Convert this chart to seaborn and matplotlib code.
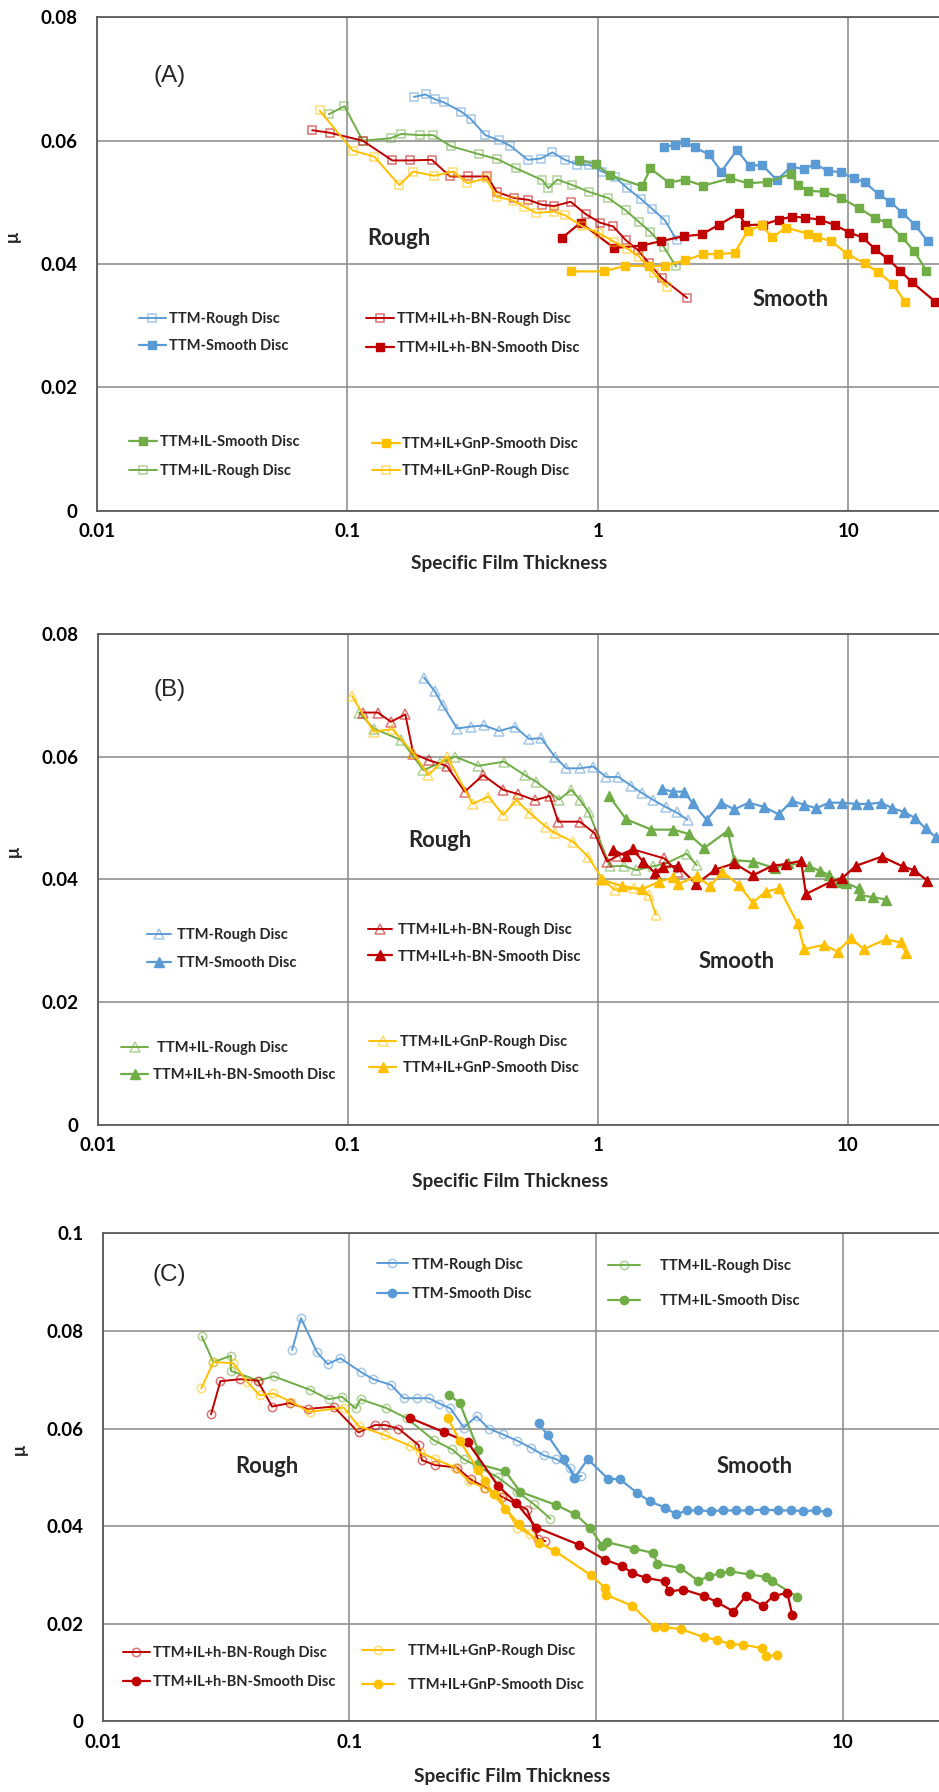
import numpy as np
import pandas as pd
import matplotlib
matplotlib.use("Agg")
import matplotlib.pyplot as plt
import seaborn as sns
from matplotlib.colors import to_rgba
from matplotlib.legend import Legend
from matplotlib.ticker import NullLocator

# ---------------- Panel A data ----------------
a_ttm_rough_x = [0.184, 0.205, 0.224, 0.243, 0.285, 0.311, 0.355, 0.401, 0.446, 0.525, 0.591, 0.658, 0.739, 0.828, 0.921, 1.04, 1.17, 1.31, 1.48, 1.64, 1.85, 2.06]
a_ttm_rough_y = [0.0671, 0.0675, 0.0667, 0.0662, 0.0647, 0.0635, 0.0609, 0.0601, 0.0592, 0.0569, 0.0571, 0.0581, 0.0569, 0.0561, 0.0561, 0.0550, 0.0541, 0.0523, 0.0506, 0.0490, 0.0471, 0.0439]
a_ttm_smooth_x = [1.83, 2.04, 2.23, 2.43, 2.77, 3.11, 3.59, 4.03, 4.52, 5.18, 5.91, 6.62, 7.37, 8.27, 9.35, 10.5, 11.6, 13.2, 14.7, 16.4, 18.4, 20.7]
a_ttm_smooth_y = [0.0590, 0.0593, 0.0598, 0.0589, 0.0578, 0.0550, 0.0585, 0.0559, 0.0561, 0.0536, 0.0558, 0.0554, 0.0562, 0.0551, 0.0549, 0.0539, 0.0533, 0.0513, 0.0501, 0.0483, 0.0464, 0.0437]
a_il_smooth_x = [0.84, 0.98, 1.12, 1.50, 1.62, 1.92, 2.22, 2.62, 3.38, 3.97, 4.73, 5.91, 6.28, 6.89, 8.02, 9.35, 11.0, 12.8, 14.3, 16.3, 18.3, 20.5]
a_il_smooth_y = [0.0569, 0.0562, 0.0544, 0.0526, 0.0555, 0.0532, 0.0537, 0.0527, 0.0539, 0.0531, 0.0533, 0.0546, 0.0528, 0.0519, 0.0517, 0.0507, 0.0491, 0.0474, 0.0467, 0.0444, 0.0421, 0.0389]
a_il_rough_x = [0.0843, 0.0973, 0.115, 0.149, 0.164, 0.194, 0.220, 0.259, 0.336, 0.397, 0.473, 0.600, 0.634, 0.689, 0.791, 0.921, 1.10, 1.29, 1.46, 1.62, 1.83, 2.05]
a_il_rough_y = [0.0643, 0.0656, 0.0600, 0.0604, 0.0611, 0.0609, 0.0609, 0.0591, 0.0578, 0.0570, 0.0555, 0.0536, 0.0523, 0.0537, 0.0528, 0.0517, 0.0507, 0.0487, 0.0468, 0.0452, 0.0428, 0.0396]
a_bn_rough_x = [0.0723, 0.0848, 0.115, 0.151, 0.178, 0.217, 0.257, 0.304, 0.362, 0.394, 0.463, 0.528, 0.600, 0.668, 0.778, 0.893, 1.02, 1.15, 1.29, 1.44, 1.60, 1.80, 2.27]
a_bn_rough_y = [0.0617, 0.0613, 0.0600, 0.0568, 0.0568, 0.0569, 0.0542, 0.0542, 0.0542, 0.0517, 0.0507, 0.0504, 0.0496, 0.0494, 0.0501, 0.0481, 0.0467, 0.0461, 0.0439, 0.0423, 0.0401, 0.0377, 0.0345]
a_bn_smooth_x = [0.717, 0.853, 1.16, 1.50, 1.78, 2.20, 2.60, 3.05, 3.65, 3.88, 4.58, 5.29, 5.98, 6.72, 7.71, 8.85, 10.1, 11.4, 12.8, 14.4, 16.1, 18.0, 22.2]
a_bn_smooth_y = [0.0442, 0.0467, 0.0426, 0.0430, 0.0437, 0.0445, 0.0448, 0.0464, 0.0482, 0.0463, 0.0464, 0.0472, 0.0477, 0.0475, 0.0472, 0.0463, 0.0451, 0.0443, 0.0424, 0.0408, 0.0389, 0.0370, 0.0339]
a_gnp_smooth_x = [0.778, 1.06, 1.28, 1.60, 1.85, 2.23, 2.63, 3.02, 3.51, 3.97, 4.52, 4.95, 5.65, 6.89, 7.48, 8.53, 9.85, 11.6, 13.1, 15.0, 16.9]
a_gnp_smooth_y = [0.0388, 0.0388, 0.0397, 0.0397, 0.0397, 0.0406, 0.0416, 0.0416, 0.0418, 0.0454, 0.0463, 0.0443, 0.0459, 0.0449, 0.0444, 0.0437, 0.0417, 0.0401, 0.0387, 0.0368, 0.0338]
a_gnp_rough_x = [0.0774, 0.105, 0.128, 0.161, 0.183, 0.222, 0.265, 0.301, 0.357, 0.394, 0.456, 0.507, 0.565, 0.668, 0.739, 0.866, 1.01, 1.16, 1.31, 1.46, 1.67, 1.89]
a_gnp_rough_y = [0.0649, 0.0584, 0.0574, 0.0528, 0.0550, 0.0543, 0.0550, 0.0531, 0.0539, 0.0509, 0.0503, 0.0493, 0.0483, 0.0485, 0.0479, 0.0461, 0.0450, 0.0436, 0.0425, 0.0412, 0.0385, 0.0363]

# ---------------- Panel B data ----------------
b_ttm_rough_x = [0.202, 0.223, 0.240, 0.274, 0.310, 0.351, 0.404, 0.466, 0.532, 0.596, 0.673, 0.750, 0.847, 0.958, 1.08, 1.21, 1.36, 1.50, 1.66, 1.87, 2.07, 2.29]
b_ttm_rough_y = [0.0729, 0.0707, 0.0684, 0.0646, 0.0649, 0.0651, 0.0642, 0.0649, 0.0629, 0.0630, 0.0600, 0.0581, 0.0581, 0.0584, 0.0567, 0.0567, 0.0553, 0.0541, 0.0530, 0.0518, 0.0509, 0.0497]
b_ttm_smooth_x = [1.81, 2.01, 2.22, 2.40, 2.73, 3.12, 3.52, 4.02, 4.64, 5.30, 5.99, 6.66, 7.47, 8.44, 9.53, 10.8, 12.1, 13.6, 15.1, 16.8, 18.6, 20.5, 22.5]
b_ttm_smooth_y = [0.0547, 0.0543, 0.0543, 0.0524, 0.0497, 0.0525, 0.0514, 0.0525, 0.0518, 0.0506, 0.0528, 0.0522, 0.0516, 0.0525, 0.0525, 0.0523, 0.0523, 0.0525, 0.0516, 0.0510, 0.0500, 0.0483, 0.0469]
b_il_rough_x = [0.111, 0.127, 0.164, 0.201, 0.234, 0.269, 0.333, 0.422, 0.511, 0.569, 0.701, 0.785, 0.848, 0.923, 1.12, 1.27, 1.43, 1.66, 1.88, 2.27, 2.49]
b_il_rough_y = [0.0672, 0.0646, 0.0627, 0.0578, 0.0590, 0.0600, 0.0585, 0.0592, 0.0570, 0.0559, 0.0530, 0.0546, 0.0530, 0.0509, 0.0421, 0.0422, 0.0415, 0.0421, 0.0426, 0.0442, 0.0423]
b_il_smooth_x = [1.11, 1.30, 1.64, 2.01, 2.31, 2.67, 3.31, 3.52, 4.20, 5.14, 5.75, 7.02, 7.74, 8.44, 9.19, 9.84, 11.1, 11.2, 12.6, 14.2]
b_il_smooth_y = [0.0536, 0.0498, 0.0481, 0.0481, 0.0474, 0.0451, 0.0479, 0.0431, 0.0429, 0.0418, 0.0426, 0.0421, 0.0414, 0.0407, 0.0396, 0.0394, 0.0385, 0.0374, 0.0371, 0.0367]
b_bn_rough_x = [0.115, 0.132, 0.149, 0.170, 0.183, 0.212, 0.249, 0.294, 0.348, 0.419, 0.481, 0.561, 0.643, 0.695, 0.848, 0.973, 1.09, 1.20, 1.38, 1.85, 2.09]
b_bn_rough_y = [0.0672, 0.0672, 0.0657, 0.0669, 0.0605, 0.0594, 0.0585, 0.0543, 0.0570, 0.0546, 0.0539, 0.0529, 0.0536, 0.0494, 0.0494, 0.0475, 0.0429, 0.0438, 0.0449, 0.0434, 0.0412]
b_bn_smooth_x = [1.15, 1.30, 1.38, 1.52, 1.69, 1.83, 2.09, 2.48, 2.96, 3.52, 4.20, 5.01, 5.67, 6.51, 6.81, 8.57, 9.53, 10.8, 13.7, 16.6, 18.4, 20.8]
b_bn_smooth_y = [0.0448, 0.0438, 0.0449, 0.0429, 0.0411, 0.0420, 0.0422, 0.0392, 0.0416, 0.0426, 0.0407, 0.0422, 0.0425, 0.0430, 0.0376, 0.0396, 0.0402, 0.0422, 0.0437, 0.0421, 0.0415, 0.0398]
b_gnp_rough_x = [0.104, 0.127, 0.151, 0.183, 0.210, 0.250, 0.316, 0.365, 0.419, 0.473, 0.535, 0.624, 0.673, 0.798, 0.915, 1.05, 1.17, 1.40, 1.61, 1.71]
b_gnp_rough_y = [0.0699, 0.0641, 0.0645, 0.0606, 0.0570, 0.0600, 0.0523, 0.0535, 0.0505, 0.0529, 0.0508, 0.0485, 0.0476, 0.0461, 0.0437, 0.0399, 0.0383, 0.0385, 0.0374, 0.0342]
b_gnp_smooth_x = [1.03, 1.25, 1.51, 1.76, 2.00, 2.09, 2.49, 2.82, 3.15, 3.67, 4.17, 4.71, 5.33, 6.31, 6.70, 8.05, 9.11, 10.3, 11.6, 14.2, 16.3, 17.1]
b_gnp_smooth_y = [0.0400, 0.0389, 0.0384, 0.0396, 0.0403, 0.0392, 0.0405, 0.0389, 0.0412, 0.0391, 0.0362, 0.0380, 0.0385, 0.0328, 0.0286, 0.0293, 0.0282, 0.0304, 0.0286, 0.0302, 0.0297, 0.0280]

# ---------------- Panel C data ----------------
c_ttm_rough_x = [0.0586, 0.0637, 0.0740, 0.0817, 0.0919, 0.112, 0.125, 0.148, 0.166, 0.188, 0.210, 0.232, 0.257, 0.291, 0.328, 0.367, 0.419, 0.479, 0.547, 0.614, 0.691, 0.783, 0.826, 0.873]
c_ttm_rough_y = [0.0761, 0.0826, 0.0756, 0.0732, 0.0744, 0.0715, 0.0701, 0.0689, 0.0662, 0.0662, 0.0662, 0.0651, 0.0641, 0.0602, 0.0625, 0.0600, 0.0588, 0.0575, 0.0560, 0.0545, 0.0537, 0.0520, 0.0499, 0.0503]
c_ttm_smooth_x = [0.586, 0.637, 0.740, 0.818, 0.927, 1.12, 1.25, 1.47, 1.65, 1.90, 2.12, 2.33, 2.59, 2.92, 3.27, 3.68, 4.17, 4.80, 5.47, 6.20, 6.93, 7.77, 8.66]
c_ttm_smooth_y = [0.0611, 0.0586, 0.0538, 0.0499, 0.0537, 0.0497, 0.0496, 0.0468, 0.0451, 0.0438, 0.0424, 0.0432, 0.0432, 0.0431, 0.0432, 0.0432, 0.0432, 0.0434, 0.0432, 0.0432, 0.0431, 0.0432, 0.0429]
c_il_rough_x = [0.0252, 0.0281, 0.0331, 0.0331, 0.0429, 0.0493, 0.0695, 0.0824, 0.0934, 0.106, 0.111, 0.141, 0.171, 0.220, 0.261, 0.291, 0.330, 0.40, 0.48, 0.56, 0.654]
c_il_rough_y = [0.0789, 0.0736, 0.0749, 0.0718, 0.0698, 0.0707, 0.0679, 0.0660, 0.0665, 0.0641, 0.0660, 0.0642, 0.0621, 0.0576, 0.0557, 0.0537, 0.0523, 0.0500, 0.0470, 0.0445, 0.0415]
c_il_smooth_x = [0.253, 0.280, 0.333, 0.333, 0.429, 0.494, 0.691, 0.826, 0.944, 1.06, 1.11, 1.42, 1.71, 1.77, 2.20, 2.60, 2.87, 3.17, 3.51, 4.20, 4.87, 5.19, 6.55]
c_il_smooth_y = [0.0669, 0.0653, 0.0556, 0.0527, 0.0512, 0.0470, 0.0443, 0.0424, 0.0397, 0.0360, 0.0367, 0.0354, 0.0345, 0.0323, 0.0314, 0.0288, 0.0297, 0.0303, 0.0307, 0.0301, 0.0296, 0.0287, 0.0255]
c_bn_rough_x = [0.0275, 0.0300, 0.0361, 0.0425, 0.0486, 0.0573, 0.0677, 0.0863, 0.109, 0.127, 0.140, 0.158, 0.191, 0.197, 0.223, 0.273, 0.310, 0.356, 0.416, 0.526, 0.581, 0.624]
c_bn_rough_y = [0.0629, 0.0697, 0.0701, 0.0698, 0.0645, 0.0652, 0.0640, 0.0645, 0.0592, 0.0607, 0.0607, 0.0600, 0.0566, 0.0535, 0.0525, 0.0520, 0.0496, 0.0479, 0.0460, 0.0434, 0.0374, 0.0369]
c_bn_smooth_x = [0.177, 0.241, 0.302, 0.400, 0.474, 0.574, 0.851, 1.09, 1.28, 1.40, 1.59, 1.90, 1.97, 2.26, 2.74, 3.10, 3.61, 4.04, 4.75, 5.26, 5.97, 6.25]
c_bn_smooth_y = [0.0621, 0.0593, 0.0572, 0.0483, 0.0448, 0.0397, 0.0362, 0.0331, 0.0318, 0.0304, 0.0294, 0.0287, 0.0266, 0.0270, 0.0257, 0.0244, 0.0225, 0.0256, 0.0237, 0.0257, 0.0263, 0.0218]
c_gnp_rough_x = [0.0251, 0.0281, 0.0338, 0.0385, 0.0433, 0.0490, 0.0580, 0.0690, 0.0948, 0.109, 0.140, 0.177, 0.194, 0.223, 0.269, 0.305, 0.351, 0.404, 0.479, 0.539]
c_gnp_rough_y = [0.0682, 0.0736, 0.0734, 0.0696, 0.0668, 0.0672, 0.0655, 0.0634, 0.0643, 0.0605, 0.0586, 0.0564, 0.0551, 0.0537, 0.0520, 0.0492, 0.0479, 0.0461, 0.0397, 0.0383]
c_gnp_smooth_x = [0.251, 0.280, 0.333, 0.356, 0.385, 0.429, 0.486, 0.586, 0.685, 0.957, 1.09, 1.10, 1.40, 1.73, 1.89, 2.21, 2.75, 3.10, 3.50, 3.95, 4.70, 4.90, 5.40]
c_gnp_smooth_y = [0.0621, 0.0575, 0.0515, 0.0492, 0.0465, 0.0436, 0.0405, 0.0366, 0.0348, 0.0299, 0.0273, 0.0259, 0.0237, 0.0193, 0.0193, 0.0189, 0.0172, 0.0167, 0.0158, 0.0157, 0.0150, 0.0134, 0.0135]

x_tick_values = [0.01, 0.1, 1, 10]
x_tick_labels = ["0.01", "0.1", "1", "10"]
x_label = "Specific Film Thickness"
y_label = "\u03bc"

sns.set_theme(style="white")
plt.rcParams['font.family'] = ['Lato', 'DejaVu Sans']

BLUE = "#5B9BD5"
RED = "#C00000"
GREEN = "#70AD47"
GOLD = "#FFC000"
GRID = "#888888"
SPINE = "#5A5A5A"
DPI = 100
LEG_FS = 10.5

fig = plt.figure(figsize=(9.39, 17.92), dpi=DPI)


def make_axes(rect, ymax, xmax, xlabel_y):
    ax = fig.add_axes(rect)
    ax.set_xscale('log')
    ax.set_xlim(0.01, xmax)
    ax.set_ylim(0, ymax)
    ax.set_xticks(x_tick_values)
    ax.set_xticklabels(x_tick_labels)
    ax.xaxis.set_minor_locator(NullLocator())
    yt = np.round(np.arange(0, ymax + 1e-9, 0.02), 2)
    ax.set_yticks(yt)
    ax.set_yticklabels([f"{v:g}" for v in yt])
    ax.grid(True, which='major', color=GRID, lw=1.1)
    ax.set_axisbelow(True)
    for s in ['left', 'bottom', 'top']:
        ax.spines[s].set_color(SPINE)
        ax.spines[s].set_linewidth(1.3)
    ax.spines['right'].set_visible(False)
    ax.tick_params(axis='both', which='major', length=3, width=1, color=SPINE,
                   labelsize=13.5, labelcolor='black')
    ax.tick_params(axis='y', pad=11)
    ax.tick_params(axis='x', pad=6)
    for lab in ax.get_xticklabels() + ax.get_yticklabels():
        lab.set_fontweight('bold')
    ax.set_xlabel(x_label, fontsize=13.8, fontweight='bold', va='center')
    ax.xaxis.set_label_coords(0.49, xlabel_y)
    ax.set_ylabel(y_label, fontsize=13, fontweight='bold')
    ax.yaxis.set_label_coords(-0.09, 0.556)
    return ax


def series(ax, x, y, color, marker, filled, label, ms):
    df = pd.DataFrame({"x": x, "y": y})
    if filled:
        kw = dict(markerfacecolor=color, markeredgecolor=color, markeredgewidth=1.0)
        lw = 1.6
    else:
        kw = dict(markerfacecolor='none', markeredgecolor=to_rgba(color, 0.55), markeredgewidth=1.1)
        lw = 1.4
    sns.lineplot(data=df, x="x", y="y", ax=ax, color=color, marker=marker, markersize=ms,
                 linewidth=lw, sort=False, estimator=None, legend=False, label=label, **kw)
    return ax.lines[-1]


def entry(ax, handle, text, x, y, hl_px, gap_px, fs=LEG_FS):
    fpx = fs * DPI / 72.0
    leg = Legend(ax, [handle], [text], loc='center left', bbox_to_anchor=(x, y),
                 bbox_transform=ax.transData, frameon=False, borderpad=0, borderaxespad=0,
                 handlelength=hl_px / fpx, handletextpad=gap_px / fpx, numpoints=1,
                 prop=dict(weight='bold', size=fs))
    ax.add_artist(leg)


def panel_text(ax, label, rough_xy, smooth_xy, label_xy):
    ax.text(*label_xy, label, ha='center', va='center', fontsize=17.5,
            family=['Liberation Sans', 'DejaVu Sans'])
    ax.text(*rough_xy, "Rough", ha='center', va='center', fontsize=15.8, fontweight='bold')
    ax.text(*smooth_xy, "Smooth", ha='center', va='center', fontsize=15.8, fontweight='bold')

# ---------------- Panel A ----------------
axA = make_axes([97 / 939, 1 - 510.6 / 1792, 842 / 939, 493.2 / 1792], 0.08, 23.0, -0.1065)
hA = {}
hA['ttm_r'] = series(axA, a_ttm_rough_x, a_ttm_rough_y, BLUE, 's', False, "TTM-Rough Disc", 5.5)
hA['ttm_s'] = series(axA, a_ttm_smooth_x, a_ttm_smooth_y, BLUE, 's', True, "TTM-Smooth Disc", 5.5)
hA['il_s'] = series(axA, a_il_smooth_x, a_il_smooth_y, GREEN, 's', True, "TTM+IL-Smooth Disc", 5.5)
hA['il_r'] = series(axA, a_il_rough_x, a_il_rough_y, GREEN, 's', False, "TTM+IL-Rough Disc", 5.5)
hA['bn_r'] = series(axA, a_bn_rough_x, a_bn_rough_y, RED, 's', False, "TTM+IL+h-BN-Rough Disc", 5.5)
hA['bn_s'] = series(axA, a_bn_smooth_x, a_bn_smooth_y, RED, 's', True, "TTM+IL+h-BN-Smooth Disc", 5.5)
hA['gnp_s'] = series(axA, a_gnp_smooth_x, a_gnp_smooth_y, GOLD, 's', True, "TTM+IL+GnP-Smooth Disc", 5.5)
hA['gnp_r'] = series(axA, a_gnp_rough_x, a_gnp_rough_y, GOLD, 's', False, "TTM+IL+GnP-Rough Disc", 5.5)
entry(axA, hA['ttm_r'], "TTM-Rough Disc", 0.01466, 0.0311, 27, 3)
entry(axA, hA['ttm_s'], "TTM-Smooth Disc", 0.01466, 0.0267, 27, 3)
entry(axA, hA['bn_r'], "TTM+IL+h-BN-Rough Disc", 0.1184, 0.0311, 28, 3)
entry(axA, hA['bn_s'], "TTM+IL+h-BN-Smooth Disc", 0.1184, 0.0264, 28, 3)
entry(axA, hA['il_s'], "TTM+IL-Smooth Disc", 0.01343, 0.0111, 28, 3)
entry(axA, hA['il_r'], "TTM+IL-Rough Disc", 0.01343, 0.0064, 28, 3)
entry(axA, hA['gnp_s'], "TTM+IL+GnP-Smooth Disc", 0.1256, 0.0108, 28, 2)
entry(axA, hA['gnp_r'], "TTM+IL+GnP-Rough Disc", 0.1256, 0.0064, 28, 2)
panel_text(axA, "(A)", (0.161, 0.0441), (5.87, 0.0343), (0.0194, 0.0705))

# ---------------- Panel B ----------------
axB = make_axes([97.7 / 939, 1 - 1124.5 / 1792, 841.3 / 939, 490.4 / 1792], 0.08, 23.2, -0.116)
hB = {}
hB['ttm_r'] = series(axB, b_ttm_rough_x, b_ttm_rough_y, BLUE, '^', False, "TTM-Rough Disc", 6.5)
hB['ttm_s'] = series(axB, b_ttm_smooth_x, b_ttm_smooth_y, BLUE, '^', True, "TTM-Smooth Disc", 6.5)
hB['il_r'] = series(axB, b_il_rough_x, b_il_rough_y, GREEN, '^', False, "TTM+IL-Rough Disc", 6.5)
hB['il_s'] = series(axB, b_il_smooth_x, b_il_smooth_y, GREEN, '^', True, "TTM+IL+h-BN-Smooth Disc", 6.5)
hB['bn_r'] = series(axB, b_bn_rough_x, b_bn_rough_y, RED, '^', False, "TTM+IL+h-BN-Rough Disc", 6.5)
hB['bn_s'] = series(axB, b_bn_smooth_x, b_bn_smooth_y, RED, '^', True, "TTM+IL+h-BN-Smooth Disc", 6.5)
hB['gnp_r'] = series(axB, b_gnp_rough_x, b_gnp_rough_y, GOLD, '^', False, "TTM+IL+GnP-Rough Disc", 6.5)
hB['gnp_s'] = series(axB, b_gnp_smooth_x, b_gnp_smooth_y, GOLD, '^', True, "TTM+IL+GnP-Smooth Disc", 6.5)
entry(axB, hB['ttm_r'], "TTM-Rough Disc", 0.0157, 0.0309, 24, 6)
entry(axB, hB['ttm_s'], "TTM-Smooth Disc", 0.0157, 0.0263, 24, 6)
entry(axB, hB['bn_r'], "TTM+IL+h-BN-Rough Disc", 0.121, 0.0317, 24, 6)
entry(axB, hB['bn_s'], "TTM+IL+h-BN-Smooth Disc", 0.121, 0.0274, 24, 6)
entry(axB, hB['il_r'], "TTM+IL-Rough Disc", 0.0124, 0.0125, 27, 9)
entry(axB, hB['il_s'], "TTM+IL+h-BN-Smooth Disc", 0.0124, 0.0080, 27, 5)
entry(axB, hB['gnp_r'], "TTM+IL+GnP-Rough Disc", 0.122, 0.0135, 27, 4)
entry(axB, hB['gnp_s'], "TTM+IL+GnP-Smooth Disc", 0.122, 0.0092, 27, 7)
panel_text(axB, "(B)", (0.233, 0.0464), (3.61, 0.0266), (0.0194, 0.0709))

# ---------------- Panel C ----------------
axC = make_axes([102.7 / 939, 1 - 1721.3 / 1792, 836.3 / 939, 488 / 1792], 0.1, 24.6, -0.113)
hC = {}
hC['ttm_r'] = series(axC, c_ttm_rough_x, c_ttm_rough_y, BLUE, 'o', False, "TTM-Rough Disc", 6)
hC['ttm_s'] = series(axC, c_ttm_smooth_x, c_ttm_smooth_y, BLUE, 'o', True, "TTM-Smooth Disc", 6)
hC['il_r'] = series(axC, c_il_rough_x, c_il_rough_y, GREEN, 'o', False, "TTM+IL-Rough Disc", 6)
hC['il_s'] = series(axC, c_il_smooth_x, c_il_smooth_y, GREEN, 'o', True, "TTM+IL-Smooth Disc", 6)
hC['bn_r'] = series(axC, c_bn_rough_x, c_bn_rough_y, RED, 'o', False, "TTM+IL+h-BN-Rough Disc", 6)
hC['bn_s'] = series(axC, c_bn_smooth_x, c_bn_smooth_y, RED, 'o', True, "TTM+IL+h-BN-Smooth Disc", 6)
hC['gnp_r'] = series(axC, c_gnp_rough_x, c_gnp_rough_y, GOLD, 'o', False, "TTM+IL+GnP-Rough Disc", 6)
hC['gnp_s'] = series(axC, c_gnp_smooth_x, c_gnp_smooth_y, GOLD, 'o', True, "TTM+IL+GnP-Smooth Disc", 6)
entry(axC, hC['ttm_r'], "TTM-Rough Disc", 0.129, 0.0936, 31, 4)
entry(axC, hC['ttm_s'], "TTM-Smooth Disc", 0.129, 0.0875, 31, 4)
entry(axC, hC['il_r'], "TTM+IL-Rough Disc", 1.115, 0.0933, 32, 20)
entry(axC, hC['il_s'], "TTM+IL-Smooth Disc", 1.115, 0.0861, 32, 20)
entry(axC, hC['bn_r'], "TTM+IL+h-BN-Rough Disc", 0.01205, 0.01395, 27, 3)
entry(axC, hC['bn_s'], "TTM+IL+h-BN-Smooth Disc", 0.01205, 0.0081, 27, 3)
entry(axC, hC['gnp_r'], "TTM+IL+GnP-Rough Disc", 0.1126, 0.0144, 32, 14)
entry(axC, hC['gnp_s'], "TTM+IL+GnP-Smooth Disc", 0.1126, 0.0074, 32, 14)
panel_text(axC, "(C)", (0.0465, 0.0522), (4.41, 0.0523), (0.01866, 0.0915))

fig.savefig("out.png", dpi=DPI, facecolor='white')
